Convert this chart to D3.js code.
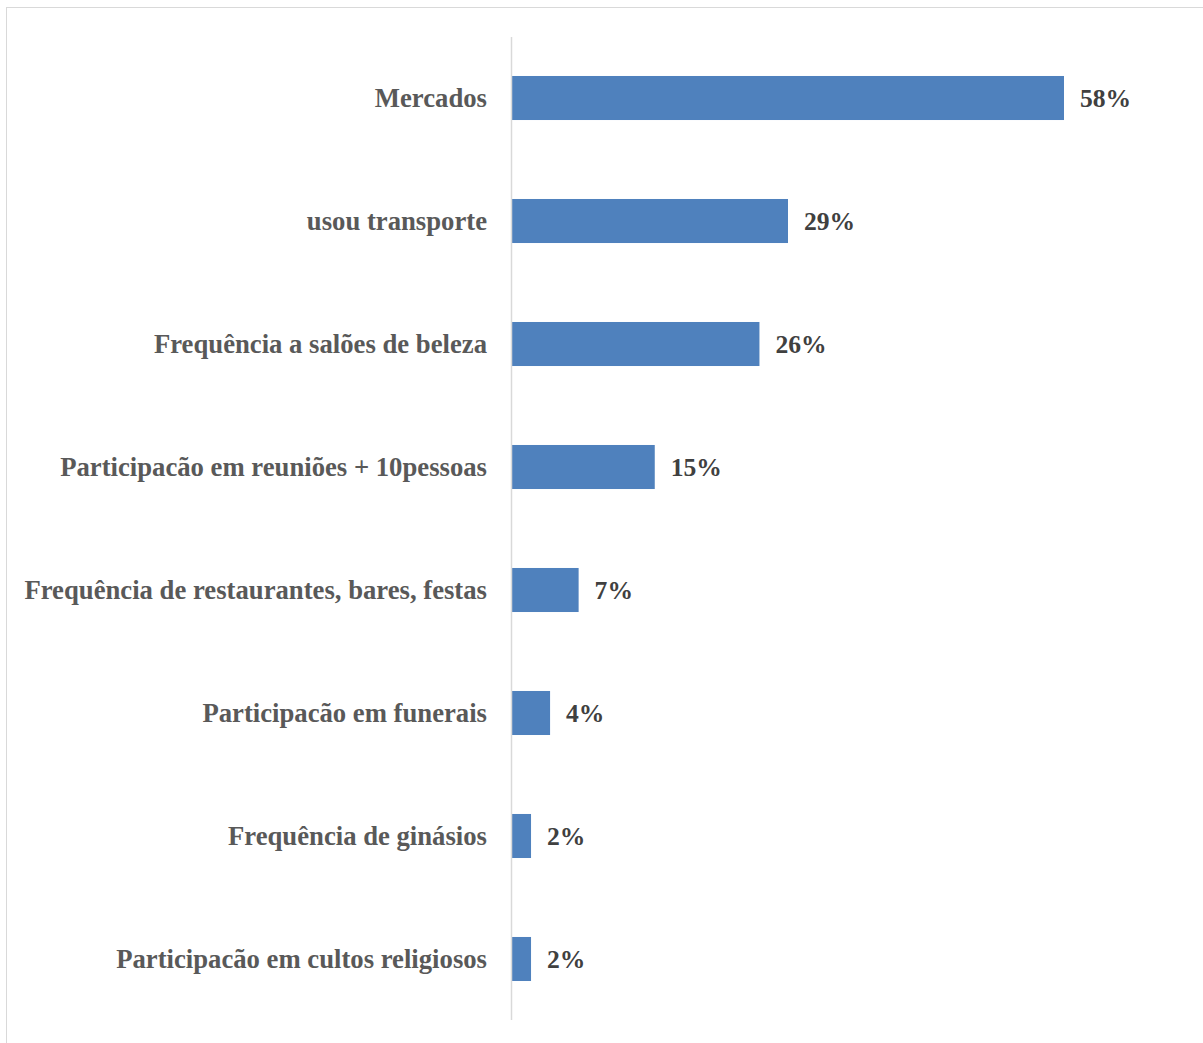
<!DOCTYPE html>
<html>
<head>
<meta charset="utf-8">
<script src="https://cdn.jsdelivr.net/npm/d3@7"></script>
<style>
  html, body { margin: 0; padding: 0; background: #fff; }
  svg { display: block; }
</style>
</head>
<body>
<svg id="chart" width="1203" height="1043"></svg>
<script>
// Activities and share of respondents (%)
const categories = [
  "Mercados",
  "usou transporte",
  "Frequência a salões de beleza",
  "Participacão em reuniões + 10pessoas",
  "Frequência de restaurantes, bares, festas",
  "Participacão em funerais",
  "Frequência de ginásios",
  "Participacão em cultos religiosos"
];
const values = [58, 29, 26, 15, 7, 4, 2, 2];

const svg = d3.select("#chart");
const font = "'Liberation Serif', 'Times New Roman', serif";

// outer frame
svg.append("rect")
  .attr("x", 6.5).attr("y", 7.5)
  .attr("width", 1220).attr("height", 1060)
  .attr("fill", "none").attr("stroke", "#d9d9d9").attr("stroke-width", 1);

const axisX = 511, plotTop = 37, plotBottom = 1020;
const x = d3.scaleLinear().domain([0, 58]).range([axisX + 1, 1064]);
const y = d3.scaleBand().domain(categories).range([plotTop, plotBottom])
  .paddingInner(0.642).paddingOuter(0.317);

const data = categories.map((c, i) => ({ c, v: values[i] }));

svg.selectAll("rect.bar").data(data).join("rect")
  .attr("class", "bar")
  .attr("x", x(0))
  .attr("y", d => y(d.c))
  .attr("width", d => x(d.v) - x(0))
  .attr("height", y.bandwidth())
  .attr("fill", "#4f81bd");

// category axis
svg.append("line")
  .attr("x1", axisX + 0.5).attr("x2", axisX + 0.5)
  .attr("y1", plotTop).attr("y2", plotBottom)
  .attr("stroke", "#d9d9d9").attr("stroke-width", 1.5);

svg.selectAll("text.cat").data(data).join("text")
  .attr("class", "cat")
  .attr("x", 487)
  .attr("y", d => y(d.c) + y.bandwidth() / 2)
  .attr("dy", "0.35em")
  .attr("text-anchor", "end")
  .attr("font-family", font).attr("font-weight", "bold").attr("font-size", 26.7)
  .attr("fill", "#595959")
  .text(d => d.c);

svg.selectAll("text.val").data(data).join("text")
  .attr("class", "val")
  .attr("x", d => x(d.v) + 16)
  .attr("y", d => y(d.c) + y.bandwidth() / 2)
  .attr("dy", "0.35em")
  .attr("font-family", font).attr("font-weight", "bold").attr("font-size", 25.6)
  .attr("fill", "#404040")
  .text(d => d.v + "%");
</script>
</body>
</html>
